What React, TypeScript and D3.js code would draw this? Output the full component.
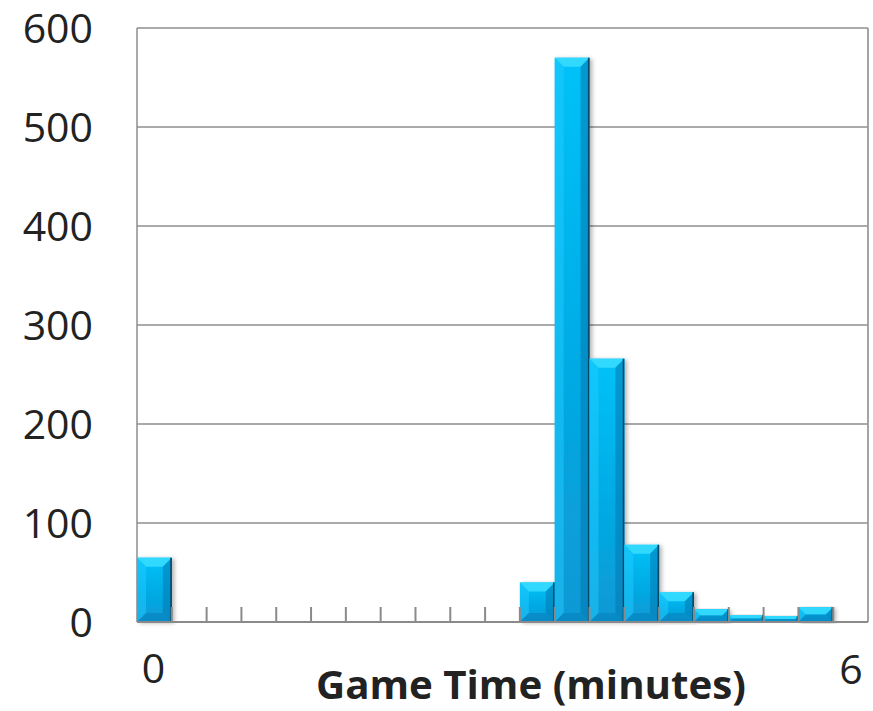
import React from "react";
import * as d3 from "d3";

// Histogram of game durations, bins of 0.3 minutes
const binIndex: number[] = d3.range(21);
const counts: number[] = [65, 0, 0, 0, 0, 0, 0, 0, 0, 0, 0, 40, 570, 266, 78, 30, 13, 7, 6, 15, 0];
const yTicks: number[] = [0, 100, 200, 300, 400, 500, 600];
const xEndLabels: string[] = ["0", "6"];
const xTitle = "Game Time (minutes)";

const W = 873;
const H = 711;
const FONT = "'Open Sans', 'Liberation Sans', sans-serif";

export default function App() {
  const x = d3.scaleBand<number>().domain(binIndex).range([137, 868]).padding(0);
  const y = d3.scaleLinear().domain([0, 600]).range([622, 28]);
  const bw = x.bandwidth();
  const [x0, x1] = x.range();
  const [yb, yt] = y.range();

  const bars = binIndex
    .map((i) => ({ i, v: counts[i] }))
    .filter((d) => d.v > 0)
    .map((d) => {
      const left = x(d.i)!;
      const top = y(d.v);
      const h = yb - top;
      const b = Math.min(9, h / 2, bw / 2);
      return { ...d, left, top, h, b };
    });

  return (
    <svg
      width={W}
      height={H}
      style={{ position: "absolute", left: 0, top: 0, background: "#fff" }}
    >
      <defs>
        <linearGradient id="barFill" x1="0" y1="0" x2="0" y2="1">
          <stop offset="0%" stopColor="#02c2f8" />
          <stop offset="100%" stopColor="#0898d4" />
        </linearGradient>
        <filter id="barShadow" x="-20%" y="-5%" width="150%" height="115%">
          <feDropShadow dx="2.5" dy="1" stdDeviation="2" floodColor="#000" floodOpacity="0.3" />
        </filter>
      </defs>

      {/* horizontal gridlines */}
      {yTicks
        .filter((t) => t > 0)
        .map((t) => (
          <line key={t} x1={x0} x2={x1} y1={y(t)} y2={y(t)} stroke="#8e8e8e" strokeWidth={1.3} />
        ))}
      {/* plot frame sides */}
      <line x1={x0} x2={x0} y1={yt} y2={yb} stroke="#8e8e8e" strokeWidth={1.5} />
      <line x1={x1} x2={x1} y1={yt} y2={yb} stroke="#9a9a9a" strokeWidth={1.8} />

      {/* bars with bevelled faces */}
      {bars.map((d) => {
        const { left, top, h, b } = d;
        const r = left + bw;
        const bot = top + h;
        return (
          <g key={d.i}>
            <rect x={left} y={top} width={bw} height={h} fill="url(#barFill)" filter="url(#barShadow)" />
            <polygon
              points={`${left},${top} ${r},${top} ${r - b},${top + b} ${left + b},${top + b}`}
              fill="#36dcff"
              opacity={0.9}
            />
            <polygon
              points={`${left},${top} ${left + b},${top + b} ${left + b},${bot - b} ${left},${bot}`}
              fill="#22ccff"
              opacity={0.5}
            />
            <polygon
              points={`${r},${top} ${r},${bot} ${r - b},${bot - b} ${r - b},${top + b}`}
              fill="#0478b0"
              opacity={0.55}
            />
            <polygon
              points={`${left},${bot} ${r},${bot} ${r - b},${bot - b} ${left + b},${bot - b}`}
              fill="#0680bc"
              opacity={0.55}
            />
            <line x1={r - 0.8} x2={r - 0.8} y1={top} y2={bot} stroke="#02486a" strokeWidth={1.6} />
          </g>
        );
      })}

      {/* category boundary ticks */}
      {binIndex.slice(1).map((i) => (
        <line
          key={i}
          x1={x(i)!}
          x2={x(i)!}
          y1={yb}
          y2={yb - 15}
          stroke="#8a8a8a"
          strokeWidth={2}
        />
      ))}
      {/* x axis line */}
      <line x1={x0} x2={x1} y1={yb} y2={yb} stroke="#8a8a8a" strokeWidth={2.2} />

      {/* y tick labels */}
      {yTicks.map((t) => (
        <text
          key={t}
          x={93}
          y={y(t) + 15}
          textAnchor="end"
          fontFamily={FONT}
          fontSize={41}
          fill="#222"
        >
          {t}
        </text>
      ))}

      {/* x end labels */}
      <text x={153.5} y={683} textAnchor="middle" fontFamily={FONT} fontSize={41} fill="#222">
        {xEndLabels[0]}
      </text>
      <text x={851} y={684} textAnchor="middle" fontFamily={FONT} fontSize={41} fill="#222">
        {xEndLabels[1]}
      </text>

      {/* axis title */}
      <text
        x={531}
        y={699}
        textAnchor="middle"
        fontFamily={FONT}
        fontSize={40}
        fontWeight="bold"
        fill="#222"
        textLength={430}
        lengthAdjust="spacingAndGlyphs"
      >
        {xTitle}
      </text>
    </svg>
  );
}
